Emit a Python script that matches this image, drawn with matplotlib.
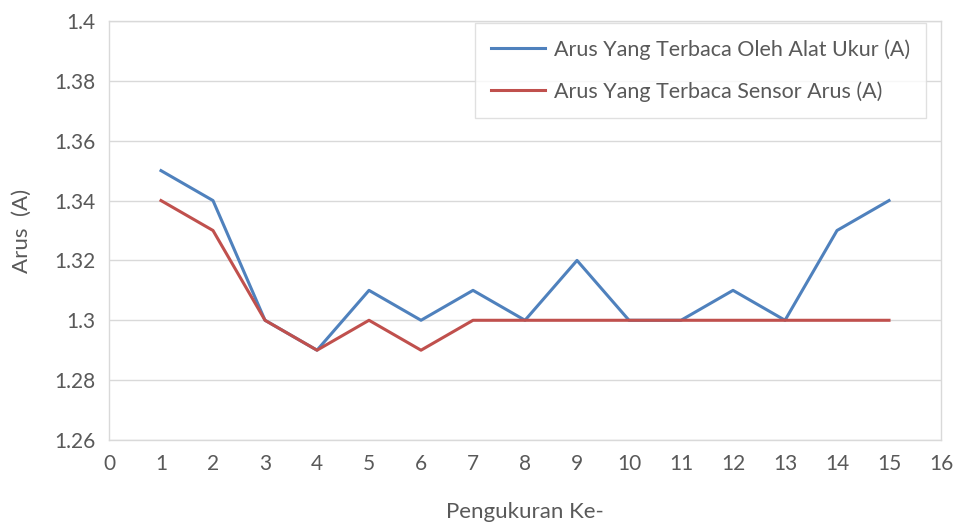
import matplotlib
matplotlib.use('Agg')
import matplotlib.pyplot as plt

# Data
pengukuran = list(range(1, 16))
arus_alat_ukur = [1.35, 1.34, 1.30, 1.29, 1.31, 1.30, 1.31, 1.30, 1.32, 1.30, 1.30, 1.31, 1.30, 1.33, 1.34]
arus_sensor = [1.34, 1.33, 1.30, 1.29, 1.30, 1.29, 1.30, 1.30, 1.30, 1.30, 1.30, 1.30, 1.30, 1.30, 1.30]
y_ticks = [1.26, 1.28, 1.3, 1.32, 1.34, 1.36, 1.38, 1.4]
y_tick_labels = ['1.26', '1.28', '1.3', '1.32', '1.34', '1.36', '1.38', '1.4']

plt.rcParams['font.family'] = ['Lato', 'DejaVu Sans']
text_color = '#595959'
grid_color = '#d9d9d9'

fig = plt.figure(figsize=(9.57, 5.22), dpi=100)
ax = fig.add_axes([0.1139, 0.1571, 0.8694, 0.8027])

ax.plot(pengukuran, arus_alat_ukur, color='#4f81bd', linewidth=2.2,
        label='Arus Yang Terbaca Oleh Alat Ukur (A)')
ax.plot(pengukuran, arus_sensor, color='#c0504d', linewidth=2.2,
        label='Arus Yang Terbaca Sensor Arus (A)')

ax.set_xlim(0, 16)
ax.set_ylim(1.26, 1.4)
ax.set_xticks(range(0, 17))
ax.set_yticks(y_ticks)
ax.set_yticklabels(y_tick_labels)
ax.tick_params(length=0, labelsize=15, colors=text_color, pad=10)
ax.yaxis.grid(True, color=grid_color, linewidth=1)
ax.set_axisbelow(True)
for s in ax.spines.values():
    s.set_color(grid_color)
    s.set_linewidth(1)

ax.set_xlabel('Pengukuran Ke-', fontsize=16, color=text_color, labelpad=20)
ax.set_ylabel('Arus  (A)', fontsize=16, color=text_color, labelpad=16)

leg = ax.legend(loc='upper right', bbox_to_anchor=(0.982, 0.995), borderaxespad=0,
                fontsize=15.5, frameon=True, fancybox=False, edgecolor=grid_color,
                handlelength=2.5, handletextpad=0.4, borderpad=0.75, labelspacing=1.0)
for t in leg.get_texts():
    t.set_color(text_color)

fig.savefig('out.png', dpi=100)
